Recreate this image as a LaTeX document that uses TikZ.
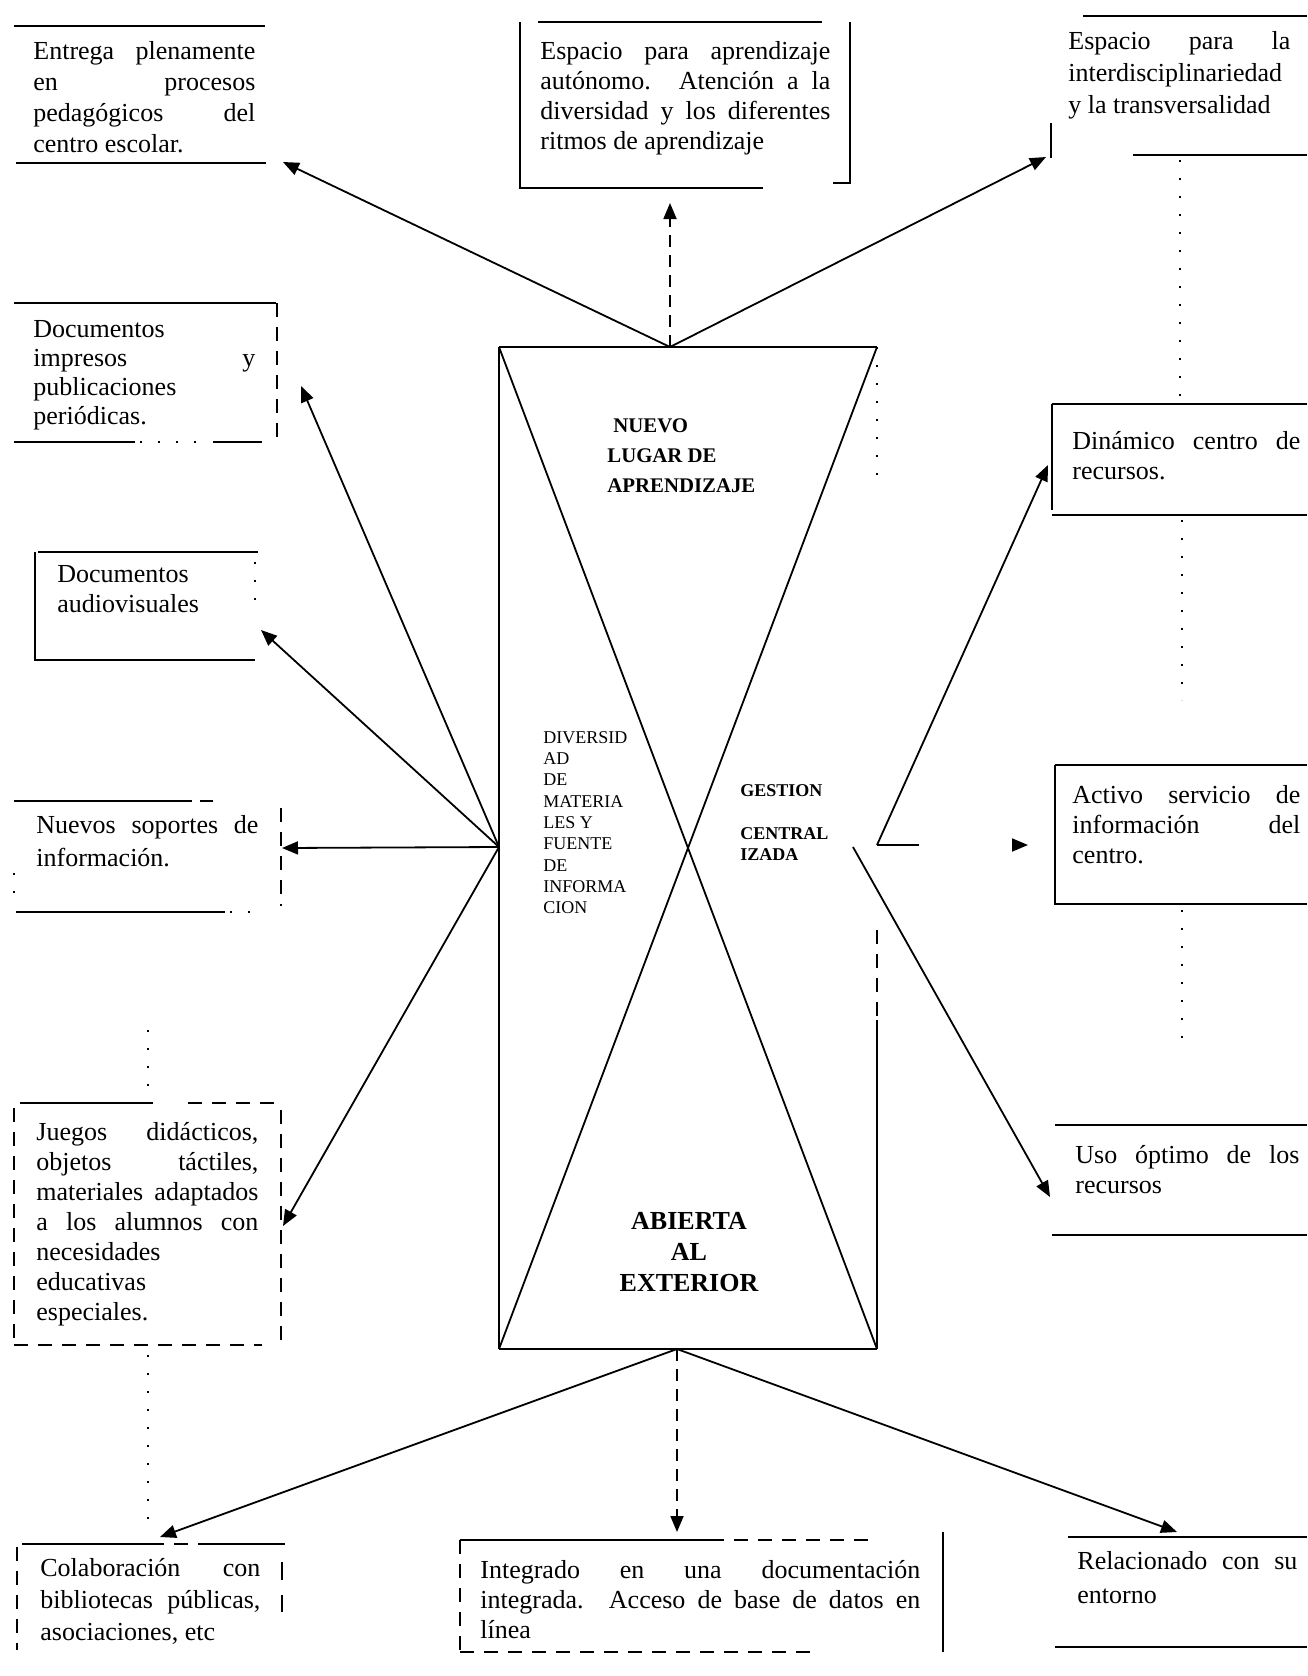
\documentclass[tikz,border=0pt]{standalone}
\usepackage{fontspec}
\setmainfont{Liberation Serif}
\usetikzlibrary{arrows.meta}

\begin{document}
\begin{tikzpicture}[x=0.5pt,y=0.5pt,yscale=-1,xscale=1,
  boxline/.style={line width=0.9pt},
  dotline/.style={line width=0.9pt,dash pattern=on 1pt off 8pt},
  dashline/.style={line width=0.9pt,dash pattern=on 7pt off 5pt},
  arrow/.style={line width=0.9pt,-{Triangle[length=8pt,width=6.5pt]}},
  boxtext/.style={anchor=north west,inner sep=0pt,text width=111pt,align=justify,
    font=\fontsize{13}{15}\selectfont,execute at begin node={\parindent=0pt}},
  captext/.style={anchor=north west,inner sep=0pt,align=left}
  ]
\useasboundingbox (0,0) rectangle (1307,1676);

%Shape: Central box
\draw [boxline] (499,347) -- (877,347) ;
\draw [boxline] (499,347) -- (499,1349) ;
\draw [boxline] (499,1349) -- (877,1349) ;
\draw [dotline] (877,347) -- (877,490) ;
\draw [dashline] (877,930) -- (877,1020) ;
\draw [boxline] (877,1020) -- (877,1349) ;
%Straight Lines: diagonals
\draw [boxline] (499,347) -- (877,1349) ;
\draw [boxline] (877,347) -- (499,1349) ;

% Arrow origins and ends
\coordinate (top) at (670,347) ;
\coordinate (left) at (499,847) ;
\coordinate (right) at (877,845) ;
\coordinate (rightin) at (853,847) ;
\coordinate (bot) at (677,1349) ;
\coordinate (entregaTip) at (283,162) ;
\coordinate (espacioTip) at (670,203) ;
\coordinate (interdisTip) at (1046,157) ;
\coordinate (impresosTip) at (301,386) ;
\coordinate (audiovisTip) at (261,630) ;
\coordinate (soportesTip) at (282,848) ;
\coordinate (juegosTip) at (283,1226) ;
\coordinate (dinamicoTip) at (1048,465) ;
\coordinate (activoTip) at (1028,845) ;
\coordinate (usoTip) at (1050,1197) ;
\coordinate (colabTip) at (160,1537) ;
\coordinate (integradoTip) at (677,1532) ;
\coordinate (relacionTip) at (1177,1532) ;

%Straight Lines: arrows
\draw [arrow] (top) -- (entregaTip) ;
\draw [arrow,dash pattern=on 6pt off 4pt] (top) -- (espacioTip) ;
\draw [arrow] (top) -- (interdisTip) ;
\draw [arrow] (left) -- (impresosTip) ;
\draw [arrow] (left) -- (audiovisTip) ;
\draw [arrow] (left) -- (soportesTip) ;
\draw [arrow] (left) -- (juegosTip) ;
\draw [arrow] (right) -- (dinamicoTip) ;
\draw [arrow,dash pattern=on 21pt off 52pt] (right) -- (activoTip) ;
\draw [arrow] (rightin) -- (usoTip) ;
\draw [arrow] (bot) -- (colabTip) ;
\draw [arrow,dash pattern=on 6pt off 4pt] (bot) -- (integradoTip) ;
\draw [arrow] (bot) -- (relacionTip) ;

%Shape: Entrega
\draw [boxline] (14,26) -- (265,26) ;
\draw [boxline] (16,163) -- (266,163) ;
%Shape: Espacio aprendizaje
\draw [boxline] (520,22) -- (520,188) -- (763,188) ;
\draw [boxline] (538,22) -- (822,22) ;
\draw [boxline] (850,22) -- (850,183) -- (833,183) ;
%Shape: Interdisciplinariedad
\draw [boxline] (1083,16) -- (1307,16) ;
\draw [boxline] (1133,155) -- (1307,155) ;
\draw [boxline] (1051,123) -- (1051,158) ;
\draw [dotline] (1180,160) -- (1180,400) ;
%Shape: Impresos
\draw [boxline] (14,303) -- (276,303) ;
\draw [dashline] (277,303) -- (277,440) ;
\draw [boxline] (14,442) -- (135,442) ;
\draw [dotline] (140,442) -- (200,442) ;
\draw [boxline] (213,442) -- (262,442) ;
%Shape: Audiovisuales
\draw [boxline] (38,552) -- (258,552) ;
\draw [boxline] (35,552) -- (35,660) -- (255,660) ;
\draw [dotline] (255,562) -- (255,600) ;
%Shape: Soportes
\draw [boxline] (14,801) -- (192,801) ;
\draw [boxline] (200,801) -- (213,801) ;
\draw [dotline] (14,873) -- (14,896) ;
\draw [dashline] (281,808) -- (281,906) ;
\draw [boxline] (16,912) -- (225,912) ;
\draw [dotline] (230,912) -- (250,912) ;
%Shape: Juegos
\draw [dotline] (148,1030) -- (148,1090) ;
\draw [boxline] (20,1103) -- (153,1103) ;
\draw [dashline] (188,1103) -- (280,1103) ;
\draw [dashline] (14,1108) -- (14,1345) ;
\draw [dashline] (281,1110) -- (281,1345) ;
\draw [dashline] (14,1345) -- (262,1345) ;
\draw [dotline] (148,1355) -- (148,1530) ;
%Shape: Colaboracion
\draw [boxline] (22,1544) -- (150,1544) ;
\draw [dashline] (150,1544) -- (200,1544) ;
\draw [boxline] (200,1544) -- (285,1544) ;
\draw [dashline] (17,1547) -- (17,1650) ;
\draw [boxline] (282,1562) -- (282,1580) ;
\draw [boxline] (282,1595) -- (282,1612) ;
%Shape: Integrado
\draw [dashline] (460,1540) -- (460,1652) ;
\draw [boxline] (460,1540) -- (710,1540) ;
\draw [dashline] (710,1540) -- (870,1540) ;
\draw [boxline] (943,1532) -- (943,1652) ;
\draw [dashline] (460,1652) -- (810,1652) ;
%Shape: Relacionado
\draw [boxline] (1068,1537) -- (1307,1537) ;
\draw [boxline] (1055,1647) -- (1307,1647) ;
%Shape: Dinamico
\draw [boxline] (1052,404) -- (1307,404) ;
\draw [boxline] (1052,404) -- (1052,510) ;
\draw [boxline] (1052,515) -- (1307,515) ;
\draw [dotline] (1182,520) -- (1182,700) ;
%Shape: Activo
\draw [boxline] (1055,765) -- (1307,765) ;
\draw [boxline] (1055,765) -- (1055,904) -- (1307,904) ;
\draw [dotline] (1182,910) -- (1182,1040) ;
%Shape: Uso
\draw [boxline] (1055,1125) -- (1307,1125) ;
\draw [boxline] (1052,1235) -- (1307,1235) ;

% Text Node
\draw (33,41) node [boxtext,font=\fontsize{13}{15.5}\selectfont] (entrega) {Entrega plenamente\linebreak en procesos\linebreak pedagógicos del\linebreak centro escolar.};
% Text Node
\draw (540,41) node [boxtext,text width=145pt] (espacio) {Espacio para aprendizaje\linebreak autónomo. Atención a la\linebreak diversidad y los diferentes\linebreak ritmos de aprendizaje};
% Text Node
\draw (1068,31) node [boxtext,font=\fontsize{13}{16}\selectfont] (interdis) {Espacio para la\linebreak interdisciplinariedad\linebreak y la transversalidad};
% Text Node
\draw (33,320) node [boxtext,font=\fontsize{13}{14.5}\selectfont] (impresos) {Documentos\linebreak impresos y\linebreak publicaciones\linebreak periódicas.};
% Text Node
\draw (57,565) node [boxtext,text width=95pt,align=left] (audiovis) {Documentos\\audiovisuales};
% Text Node
\draw (36,815) node [boxtext,font=\fontsize{13}{16.5}\selectfont] (soportes) {Nuevos soportes de\linebreak información.};
% Text Node
\draw (36,1122) node [boxtext] (juegos) {Juegos didácticos,\linebreak objetos táctiles,\linebreak materiales adaptados\linebreak a los alumnos con\linebreak necesidades\linebreak educativas\linebreak especiales.};
% Text Node
\draw (40,1558) node [boxtext,text width=110pt,font=\fontsize{13}{16}\selectfont] (colab) {Colaboración con\linebreak bibliotecas públicas,\linebreak asociaciones, etc};
% Text Node
\draw (480,1560) node [boxtext,text width=220pt] (integrado) {Integrado en una documentación\linebreak integrada. Acceso de base de datos en\linebreak línea};
% Text Node
\draw (1077,1551) node [boxtext,text width=110pt,font=\fontsize{13}{17}\selectfont] (relacion) {Relacionado con su\linebreak entorno};
% Text Node
\draw (1072,431) node [boxtext,text width=114pt] (dinamico) {Dinámico centro de\linebreak recursos.};
% Text Node
\draw (1072,785) node [boxtext,text width=114pt] (activo) {Activo servicio de\linebreak información del\linebreak centro.};
% Text Node
\draw (1075,1145) node [boxtext,text width=112pt] (uso) {Uso óptimo de los\linebreak recursos};
% Text Node
\draw (607,418) node [captext,font=\fontsize{10.4}{15}\selectfont\bfseries] (nuevo) {\hspace*{3pt}NUEVO\\LUGAR DE\\APRENDIZAJE};
% Text Node
\draw (543,731) node [captext,font=\fontsize{9}{10.65}\selectfont] (diversidad) {DIVERSID\\AD\\DE\\MATERIA\\LES Y\\FUENTE\\DE\\INFORMA\\CION};
% Text Node
\draw (740,784) node [captext,font=\fontsize{9}{10.75}\selectfont\bfseries] (gestion) {GESTION\\[10.75pt]CENTRAL\\IZADA};
% Text Node
\draw (689,1212) node [anchor=north,inner sep=0pt,align=center,font=\fontsize{13}{15.5}\selectfont\bfseries] (abierta) {ABIERTA\\AL\\EXTERIOR};

\end{tikzpicture}
\end{document}
